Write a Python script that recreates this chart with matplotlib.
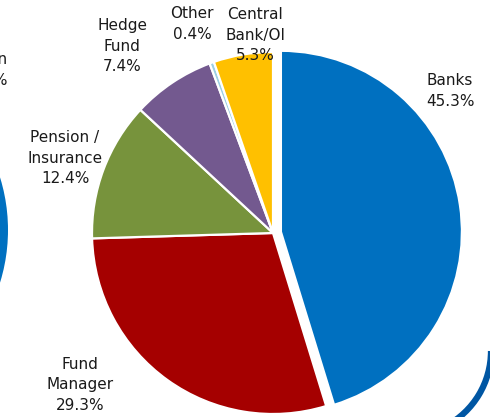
import matplotlib.pyplot as plt
from matplotlib.patches import Circle, Arc

# share of holdings by type of investor (%)
categorias = ['Banks', 'Fund\nManager', 'Pension /\nInsurance', 'Hedge\nFund', 'Other', 'Central\nBank/OI']
valores = [45.3, 29.3, 12.4, 7.4, 0.4, 5.3]
cores = ['#0070C0', '#A50000', '#77933C', '#73598F', '#9DCFE3', '#FFC000']

# label centres in pixels (x from left, y from top)
pos_rotulos = [(450, 91), (80, 385), (65, 158), (122, 46), (192, 24), (255, 35)]

L, H = 490, 417

fig = plt.figure(figsize=(4.9, 4.17), dpi=100)
ax = fig.add_axes([0, 0, 1, 1])

# pedacos de outros graficos que aparecem cortados na borda
ax.add_patch(Circle((-170, H - 230), 178, color='#0070C0', lw=0))
ax.add_patch(Arc((406, H - 351), 170, 170, theta1=-62, theta2=0,
                 edgecolor='#0056A3', lw=4.5))
ax.text(8, H - 70, 'Pension\n11.6%', ha='right', va='center', multialignment='right',
        fontsize=11, color='#1a1a1a', linespacing=1.45)

# explode do pie e em unidades de dados (pixels aqui)
ax.pie(valores, colors=cores, startangle=90, counterclock=False,
       explode=[8, 0, 0, 0, 0, 0], center=(273, H - 233), radius=181,
       wedgeprops=dict(edgecolor='white', linewidth=1.6), frame=True)
ax.set_xlim(0, L)
ax.set_ylim(0, H)
ax.set_aspect('equal')
ax.axis('off')

for cat, v, (x, y) in zip(categorias, valores, pos_rotulos):
    ax.text(x, H - y, f'{cat}\n{v:.1f}%', ha='center', va='center',
            multialignment='center', fontsize=11, color='#1a1a1a', linespacing=1.45)

fig.savefig('out.png', dpi=100)
